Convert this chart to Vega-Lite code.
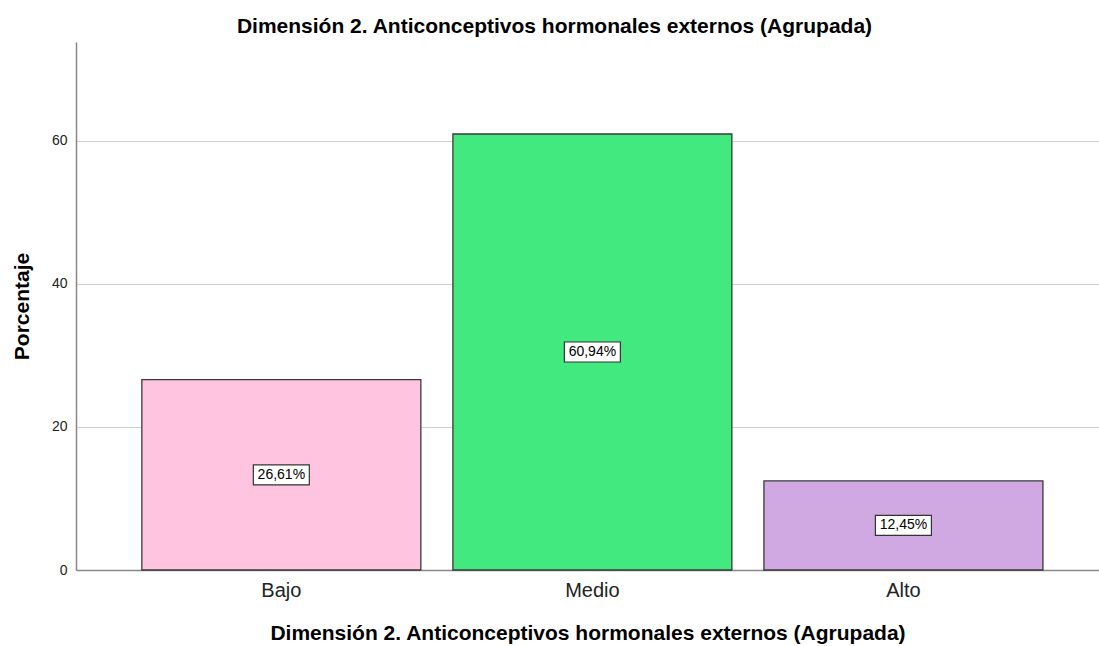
{
  "$schema": "https://vega.github.io/schema/vega-lite/v6.json",
  "width": 1023,
  "height": 528,
  "autosize": "none",
  "padding": {"left": 76, "top": 42, "right": 0, "bottom": 76},
  "background": "white",
  "config": {
    "view": {"stroke": null},
    "font": "Liberation Sans"
  },
  "title": {
    "text": "Dimensión 2. Anticonceptivos hormonales externos (Agrupada)",
    "font": "Liberation Sans",
    "fontSize": 21,
    "fontWeight": "bold",
    "color": "#000000",
    "anchor": "middle",
    "dx": -33,
    "offset": 5
  },
  "data": {
    "values": [
      {"cat": "Bajo", "pct": 26.61, "label": "26,61%"},
      {"cat": "Medio", "pct": 60.94, "label": "60,94%"},
      {"cat": "Alto", "pct": 12.45, "label": "12,45%"}
    ]
  },
  "encoding": {
    "x": {
      "field": "cat",
      "type": "nominal",
      "sort": ["Bajo", "Medio", "Alto"],
      "scale": {"paddingInner": 0.103, "paddingOuter": 0.196, "align": 0.54},
      "axis": {
        "title": "Dimensión 2. Anticonceptivos hormonales externos (Agrupada)",
        "titleFont": "Liberation Sans",
        "titleFontSize": 21,
        "titleFontWeight": "bold",
        "titleColor": "#000000",
        "titlePadding": 22,
        "labelAngle": 0,
        "labelFont": "Liberation Sans",
        "labelFontSize": 20,
        "labelColor": "#222222",
        "labelPadding": 10,
        "ticks": false,
        "domain": true,
        "domainColor": "#888888",
        "domainWidth": 1.5,
        "grid": false
      }
    }
  },
  "layer": [
    {
      "mark": {"type": "bar", "stroke": "#3a3a3a", "strokeWidth": 1.3},
      "encoding": {
        "y": {
          "field": "pct",
          "type": "quantitative",
          "scale": {"domain": [0, 73.8], "nice": false},
          "axis": {
            "title": "Porcentaje",
            "titleFont": "Liberation Sans",
            "titleFontSize": 21,
            "titleFontWeight": "bold",
            "titleColor": "#000000",
            "titlePadding": 19,
            "values": [0, 20, 40, 60],
            "labelFont": "Liberation Sans",
            "labelFontSize": 14,
            "labelColor": "#222222",
            "labelPadding": 9,
            "ticks": false,
            "domainColor": "#888888",
            "domainWidth": 1.5,
            "grid": true,
            "gridColor": "#d0d0d0",
            "gridWidth": 1.2
          }
        },
        "color": {
          "field": "cat",
          "type": "nominal",
          "scale": {"domain": ["Bajo", "Medio", "Alto"], "range": ["#fec4e0", "#41e97e", "#d0a9e3"]},
          "legend": null
        }
      }
    },
    {
      "transform": [{"calculate": "datum.pct / 2", "as": "mid"}],
      "mark": {
        "type": "point",
        "shape": "M-1,-0.357L1,-0.357L1,0.357L-1,0.357Z",
        "size": 3136,
        "filled": true,
        "fill": "white",
        "stroke": "#333333",
        "strokeWidth": 1.2,
        "opacity": 1,
        "fillOpacity": 1
      },
      "encoding": {
        "y": {"field": "mid", "type": "quantitative"}
      }
    },
    {
      "transform": [{"calculate": "datum.pct / 2", "as": "mid"}],
      "mark": {
        "type": "text",
        "font": "Liberation Sans",
        "fontSize": 14,
        "color": "#000000",
        "baseline": "middle",
        "align": "center"
      },
      "encoding": {
        "y": {"field": "mid", "type": "quantitative"},
        "text": {"field": "label"}
      }
    }
  ]
}
